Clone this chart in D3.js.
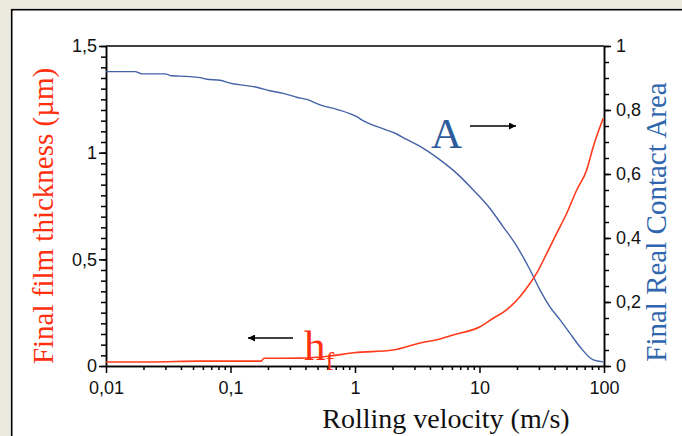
<!DOCTYPE html>
<html>
<head>
<meta charset="utf-8">
<script src="https://cdn.jsdelivr.net/npm/d3@7"></script>
<style>
  body { margin: 0; background: #ece9df; }
  svg { display: block; }
</style>
</head>
<body>
<div id="chart"></div>
<script>
// rolling velocity (m/s) and final film thickness h_f (µm)
var hVel = [0.01, 0.0226, 0.057, 0.099, 0.176, 0.186, 0.361, 0.63, 0.98, 2.02, 3.33, 4.82, 6.12, 10.1, 12.9, 16.5, 21.1, 25.5, 28.8, 34.7, 41.7, 50.2, 60.4, 72.6, 82.0, 98.6];
var hVal = [0.019, 0.019, 0.023, 0.023, 0.023, 0.036, 0.037, 0.047, 0.062, 0.075, 0.108, 0.127, 0.145, 0.184, 0.224, 0.263, 0.325, 0.388, 0.435, 0.528, 0.622, 0.716, 0.825, 0.919, 1.028, 1.161];

// rolling velocity (m/s) and final real contact area A
var aVel = [0.01, 0.0171, 0.0194, 0.0298, 0.0337, 0.0445, 0.0569, 0.0644, 0.0824, 0.099, 0.135, 0.162, 0.207, 0.265, 0.34, 0.409, 0.524, 0.713, 1.03, 1.17, 1.69, 2.16, 2.6, 3.54, 4.82, 6.56, 8.92, 12.1, 15.5, 19.3, 25.5, 30.6, 36.8, 44.4, 53.3, 64.1, 82.0, 98.6];
var aVal = [0.92, 0.92, 0.913, 0.913, 0.907, 0.905, 0.901, 0.896, 0.893, 0.884, 0.876, 0.871, 0.86, 0.852, 0.84, 0.833, 0.816, 0.802, 0.779, 0.766, 0.741, 0.725, 0.708, 0.68, 0.644, 0.602, 0.55, 0.493, 0.435, 0.383, 0.3, 0.238, 0.185, 0.144, 0.102, 0.06, 0.019, 0.013];

var xTicks = [0.01, 0.1, 1, 10, 100];
var xTickLabels = ["0,01", "0,1", "1", "10", "100"];
var yLeftTicks = [0, 0.5, 1, 1.5];
var yLeftLabels = ["0", "0,5", "1", "1,5"];
var yRightTicks = [0, 0.2, 0.4, 0.6, 0.8, 1];
var yRightLabels = ["0", "0,2", "0,4", "0,6", "0,8", "1"];

var W = 682, H = 436;
var margin = {top: 46, right: 78, bottom: 70, left: 106};

var svg = d3.select("#chart").append("svg")
    .attr("width", W)
    .attr("height", H);

// white panel with black frame
svg.append("rect")
    .attr("x", 11.7).attr("y", 9.7)
    .attr("width", W).attr("height", H)
    .attr("fill", "#fff")
    .attr("stroke", "#000")
    .attr("stroke-width", 1.6);

var x = d3.scaleLog()
    .domain([0.01, 100])
    .range([margin.left, W - margin.right]);
var yL = d3.scaleLinear()
    .domain([0, 1.5])
    .range([H - margin.bottom, margin.top]);
var yR = d3.scaleLinear()
    .domain([0, 1])
    .range([H - margin.bottom, margin.top]);

var xMinor = [];
xTicks.slice(0, -1).forEach(function(d) {
  for (var k = 2; k < 10; k++) xMinor.push(d * k);
});

function styleAxis(g) {
  g.selectAll("path, line").attr("stroke", "#000").attr("stroke-width", 1.5);
  g.selectAll("text")
    .attr("fill", "#111")
    .style("font-family", "'Liberation Sans', Arial, sans-serif")
    .style("font-size", "18px");
}

var y0 = H - margin.bottom;
var xr = W - margin.right;

// minor ticks
svg.append("g")
    .attr("transform", "translate(0," + y0 + ")")
    .call(d3.axisBottom(x).tickValues(xMinor).tickSize(4).tickSizeOuter(0).tickFormat(""))
    .call(styleAxis);
svg.append("g")
    .attr("transform", "translate(" + margin.left + ",0)")
    .call(d3.axisLeft(yL).tickValues(d3.range(0, 1.5001, 0.05)).tickSize(5).tickSizeOuter(0).tickFormat(""))
    .call(styleAxis);
svg.append("g")
    .attr("transform", "translate(" + xr + ",0)")
    .call(d3.axisRight(yR).tickValues(d3.range(0, 1.0001, 0.05)).tickSize(5).tickSizeOuter(0).tickFormat(""))
    .call(styleAxis);

// major ticks
svg.append("g")
    .attr("transform", "translate(0," + y0 + ")")
    .call(d3.axisBottom(x).tickValues(xTicks).tickSize(7).tickPadding(8).tickSizeOuter(0)
      .tickFormat(function(d, i) { return xTickLabels[i]; }))
    .call(styleAxis);
svg.append("g")
    .attr("transform", "translate(" + margin.left + ",0)")
    .call(d3.axisLeft(yL).tickValues(yLeftTicks).tickSize(7).tickPadding(2).tickSizeOuter(0)
      .tickFormat(function(d, i) { return yLeftLabels[i]; }))
    .call(styleAxis);
svg.append("g")
    .attr("transform", "translate(" + xr + ",0)")
    .call(d3.axisRight(yR).tickValues(yRightTicks).tickSize(7).tickPadding(5).tickSizeOuter(0)
      .tickFormat(function(d, i) { return yRightLabels[i]; }))
    .call(styleAxis);

// top frame line
svg.append("line")
    .attr("x1", margin.left).attr("x2", xr)
    .attr("y1", margin.top).attr("y2", margin.top)
    .attr("stroke", "#000").attr("stroke-width", 1.5);

// curves
var lineH = d3.line()
    .x(function(d, i) { return x(hVel[i]); })
    .y(function(d) { return yL(d); })
    .curve(d3.curveMonotoneX);
var lineA = d3.line()
    .x(function(d, i) { return x(aVel[i]); })
    .y(function(d) { return yR(d); })
    .curve(d3.curveMonotoneX);

svg.append("path")
    .datum(aVal)
    .attr("d", lineA)
    .attr("fill", "none")
    .attr("stroke", "#4462a6")
    .attr("stroke-width", 1.4);
svg.append("path")
    .datum(hVal)
    .attr("d", lineH)
    .attr("fill", "none")
    .attr("stroke", "#ff3a1a")
    .attr("stroke-width", 1.6);

// axis titles
var serif = "'Liberation Serif', 'Times New Roman', serif";
svg.append("text")
    .attr("transform", "translate(53,216) rotate(-90)")
    .attr("text-anchor", "middle")
    .style("font-family", serif).style("font-size", "29px")
    .attr("fill", "#ff3010")
    .text("Final film thickness (µm)");
svg.append("text")
    .attr("transform", "translate(666,222) rotate(-90)")
    .attr("text-anchor", "middle")
    .style("font-family", serif).style("font-size", "29px")
    .attr("fill", "#2f66ad")
    .text("Final Real Contact Area");
svg.append("text")
    .attr("x", 446).attr("y", 428)
    .attr("text-anchor", "middle")
    .style("font-family", serif).style("font-size", "28px")
    .attr("fill", "#111")
    .text("Rolling velocity (m/s)");

// annotations
svg.append("defs").append("marker")
    .attr("id", "head")
    .attr("viewBox", "0 0 10 10")
    .attr("refX", 10).attr("refY", 5)
    .attr("markerWidth", 9).attr("markerHeight", 7)
    .attr("markerUnits", "userSpaceOnUse")
    .attr("orient", "auto")
  .append("path")
    .attr("d", "M0,0L10,5L0,10Z")
    .attr("fill", "#000");

svg.append("text")
    .attr("x", 431).attr("y", 148)
    .style("font-family", serif).style("font-size", "43px")
    .attr("fill", "#2d5b9c")
    .text("A");
svg.append("line")
    .attr("x1", 470).attr("y1", 126).attr("x2", 516).attr("y2", 126)
    .attr("stroke", "#000").attr("stroke-width", 1.6)
    .attr("marker-end", "url(#head)");

var hf = svg.append("text")
    .attr("x", 304).attr("y", 360)
    .style("font-family", serif).style("font-size", "43px")
    .attr("fill", "#ff3010");
hf.append("tspan").text("h");
hf.append("tspan").attr("dy", 10).style("font-size", "26px").text("f");
svg.append("line")
    .attr("x1", 293).attr("y1", 338).attr("x2", 248).attr("y2", 338)
    .attr("stroke", "#000").attr("stroke-width", 1.6)
    .attr("marker-end", "url(#head)");
</script>
</body>
</html>
